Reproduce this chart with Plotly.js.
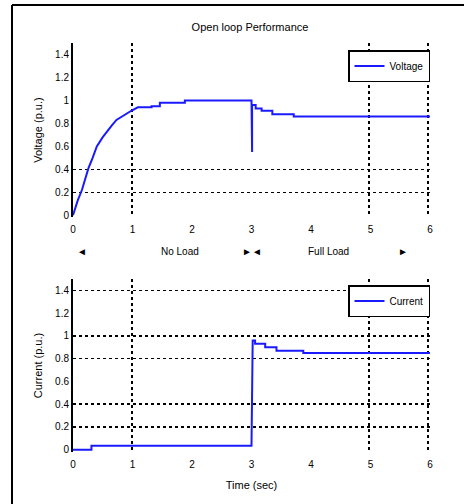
<!DOCTYPE html>
<html>
<head>
<meta charset="utf-8">
<script src="https://cdn.plot.ly/plotly-3.0.1.min.js"></script>
<style>html,body{margin:0;padding:0;background:#fff;}#chart{width:464px;height:504px;}</style>
</head>
<body>
<div id="chart"></div>
<script>
// ---- data ----
const timeVoltage = [0, 0.03, 0.08, 0.15, 0.2, 0.26, 0.33, 0.4, 0.5, 0.57, 0.65, 0.73, 0.85, 0.98, 1.09, 1.32, 1.32, 1.46, 1.46, 1.88, 1.88, 3.0, 3.01, 3.01, 3.07, 3.07, 3.17, 3.17, 3.35, 3.35, 3.71, 3.71, 6.0];
const voltage     = [0, 0.05, 0.13, 0.22, 0.3, 0.41, 0.5, 0.6, 0.68, 0.73, 0.78, 0.83, 0.87, 0.91, 0.94, 0.94, 0.95, 0.95, 0.98, 0.98, 1.0, 1.0, 0.55, 0.96, 0.96, 0.93, 0.93, 0.91, 0.91, 0.88, 0.88, 0.86, 0.86];
const timeCurrent = [0, 0.31, 0.31, 3.0, 3.02, 3.06, 3.06, 3.23, 3.23, 3.42, 3.42, 3.87, 3.87, 6.0];
const current     = [0, 0, 0.035, 0.035, 0.96, 0.96, 0.93, 0.93, 0.9, 0.9, 0.87, 0.87, 0.85, 0.85];
const xTicks = [0, 1, 2, 3, 4, 5, 6];
const yTicks = [0, 0.2, 0.4, 0.6, 0.8, 1, 1.2, 1.4];
const yTickText = ['0', '0.2', '0.4', '0.6', '0.8', '1', '1.2', '1.4'];
const xGridTop = [1, 5, 6];
const yGridTop = [0.2, 0.4];
const xGridBottom = [1, 5, 6];
const yGridBottom = [0.2, 0.4, 0.8, 1, 1.4];
const loadLabels = ['◄', 'No Load', '►◄', 'Full Load', '►'];
const loadLabelPos = [0.15, 1.8, 3.0, 4.3, 5.55];

const FONT = 'Liberation Sans, Arial, sans-serif';
const BLUE = '#1a1aff';
const TICKF = {family: FONT, size: 10, color: '#000'};
const TITLEF = {family: FONT, size: 11, color: '#000'};

const traces = [
  {x: timeVoltage, y: voltage, xaxis: 'x', yaxis: 'y', mode: 'lines', name: 'Voltage',
   line: {color: BLUE, width: 2}, legend: 'legend'},
  {x: timeCurrent, y: current, xaxis: 'x2', yaxis: 'y2', mode: 'lines', name: 'Current',
   line: {color: BLUE, width: 2}, legend: 'legend2'},
  // empty helper traces so that the grid-only axes are drawn
  {x: [null], y: [null], xaxis: 'x3', yaxis: 'y', mode: 'lines', showlegend: false, hoverinfo: 'skip'},
  {x: [null], y: [null], xaxis: 'x', yaxis: 'y3', mode: 'lines', showlegend: false, hoverinfo: 'skip'},
  {x: [null], y: [null], xaxis: 'x4', yaxis: 'y2', mode: 'lines', showlegend: false, hoverinfo: 'skip'},
  {x: [null], y: [null], xaxis: 'x2', yaxis: 'y4', mode: 'lines', showlegend: false, hoverinfo: 'skip'}
];

const xDom = [73/464, 430/464];
const topDom = [1 - 217/504, 1 - 43/504];
const botDom = [1 - 452/504, 1 - 279/504];

function mainX(anchor) {
  return {domain: xDom, anchor: anchor, range: [0, 6], tickvals: xTicks, ticktext: xTicks.map(String),
    showgrid: false, zeroline: false, showline: false, ticks: '', automargin: false,
    ticklabelstandoff: 5, tickfont: TICKF};
}
function mainY(anchor, dom, rng) {
  return {domain: dom, anchor: anchor, range: rng, tickvals: yTicks, ticktext: yTickText,
    showgrid: false, zeroline: false, showline: true, linecolor: '#000', linewidth: 2,
    ticks: '', automargin: false, tickfont: TICKF};
}
function gridX(over, anchor, vals) {
  return {overlaying: over, anchor: anchor, range: [0, 6.03], tickvals: vals, showticklabels: false,
    showgrid: true, gridcolor: '#000', gridwidth: 1.5, griddash: 'dot', zeroline: false, showline: false, ticks: ''};
}
function gridY(over, anchor, vals, rng) {
  return {overlaying: over, anchor: anchor, range: rng, tickvals: vals, showticklabels: false,
    showgrid: true, gridcolor: '#000', gridwidth: 1.5, griddash: 'dot', zeroline: false, showline: false, ticks: ''};
}

const yRangeTop = [-0.015, 1.5];
const yRangeBot = [-0.02, 1.5];

const layout = {
  width: 464, height: 504,
  margin: {l: 0, r: 0, t: 0, b: 0},
  paper_bgcolor: '#fff', plot_bgcolor: 'rgba(0,0,0,0)',
  showlegend: true,
  title: {text: 'Open loop Performance', x: 250/464, xanchor: 'center', y: 1 - 27/504, yanchor: 'middle',
    font: TITLEF},
  xaxis: mainX('y'),
  yaxis: Object.assign(mainY('x', topDom, yRangeTop),
    {title: {text: 'Voltage (p.u.)', standoff: 10, font: TITLEF}}),
  xaxis2: Object.assign(mainX('y2'),
    {title: {text: 'Time (sec)', standoff: 12, font: TITLEF}}),
  yaxis2: Object.assign(mainY('x2', botDom, yRangeBot),
    {title: {text: 'Current (p.u.)', standoff: 10, font: TITLEF}}),
  xaxis3: gridX('x', 'y', xGridTop),
  yaxis3: gridY('y', 'x', yGridTop, yRangeTop),
  xaxis4: gridX('x2', 'y2', xGridBottom),
  yaxis4: gridY('y2', 'x2', yGridBottom, yRangeBot),
  legend: {x: 348/464, y: 1 - 50/504, xanchor: 'left', yanchor: 'top', bgcolor: '#fff',
    bordercolor: '#000', borderwidth: 1.5, font: TICKF},
  legend2: {x: 348/464, y: 1 - 285/504, xanchor: 'left', yanchor: 'top', bgcolor: '#fff',
    bordercolor: '#000', borderwidth: 1.5, font: TICKF},
  annotations: loadLabels.map((t, i) => ({text: t, x: loadLabelPos[i], xref: 'x', y: 1 - 251/504, yref: 'paper',
    showarrow: false, xanchor: 'center', yanchor: 'middle', font: TICKF})),
  shapes: [
    {type: 'line', xref: 'paper', yref: 'paper', x0: 12/464, x1: 1, y0: 1 - 5/504, y1: 1 - 5/504, line: {color: '#000', width: 2}},
    {type: 'line', xref: 'paper', yref: 'paper', x0: 12/464, x1: 12/464, y0: 0, y1: 1 - 5/504, line: {color: '#000', width: 2}}
  ]
};

Plotly.newPlot('chart', traces, layout, {displayModeBar: false, staticPlot: true});
</script>
</body>
</html>
